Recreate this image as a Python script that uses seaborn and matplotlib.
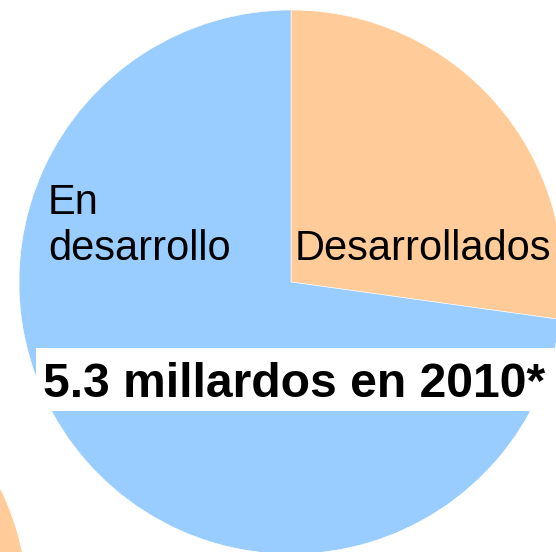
import matplotlib
matplotlib.use('Agg')
import matplotlib.pyplot as plt
import seaborn as sns
from matplotlib.patches import Rectangle

# poblacion mundial 2010 (%)
grupos = ['Desarrollados', 'En desarrollo']
valores = [27.2, 72.8]
titulo = '5.3 millardos en 2010*'

sns.set_theme(style='white')
plt.rcParams['font.family'] = ['Liberation Sans', 'DejaVu Sans']
plt.rcParams['text.color'] = 'black'
colores = ['#FFCC99', '#99CCFF']

fig = plt.figure(figsize=(5.56, 5.52), dpi=100)
ax = fig.add_axes([0, 0, 1, 1])

# pastel principal
ax.pie(valores, colors=colores, startangle=90, counterclock=False,
       center=(291, 270), radius=272,
       wedgeprops={'edgecolor': 'white', 'linewidth': 0.4})
# pastel siguiente (solo se ve un borde abajo a la izquierda)
ax.pie(valores, colors=colores, startangle=90, counterclock=False,
       center=(-244, -56), radius=272,
       wedgeprops={'edgecolor': 'white', 'linewidth': 0.4})

ax.set_xlim(0, 556)
ax.set_ylim(0, 552)
ax.set_aspect('equal')
ax.axis('off')

ax.text(295, 292, grupos[0], fontsize=30, ha='left', va='baseline', color='black')
ax.text(48, 292, 'En\ndesarrollo', fontsize=30, ha='left', va='baseline',
        linespacing=1.2, color='black')

ax.add_patch(Rectangle((36, 141), 518, 63, facecolor='white', edgecolor='none', zorder=3))
ax.text(294, 155, titulo, fontsize=34.6, fontweight='bold', ha='center',
        va='baseline', zorder=4, color='black')

plt.savefig('out.png', dpi=100)
